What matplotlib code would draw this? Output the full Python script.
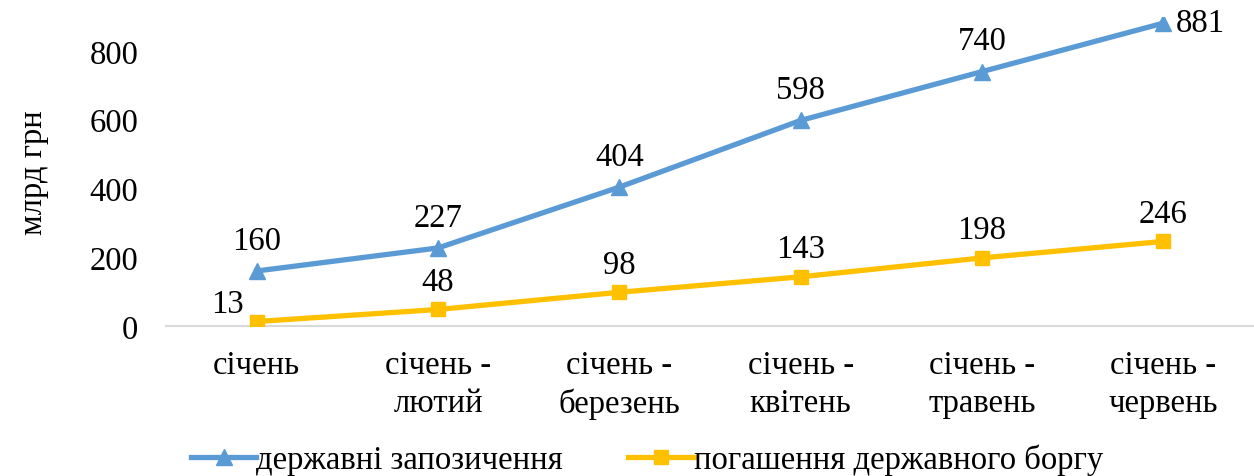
import matplotlib.pyplot as plt

plt.rcParams['font.family'] = ['Liberation Serif', 'DejaVu Serif']

categories = ["січень", "січень -\nлютий", "січень -\nберезень", "січень -\nквітень",
              "січень -\nтравень", "січень -\nчервень"]
borrowing = [160, 227, 404, 598, 740, 881]
repayment = [13, 48, 98, 143, 198, 246]
names = ["державні запозичення", "погашення державного боргу"]

blue = "#5B9BD5"
orange = "#FFC000"

fig = plt.figure(figsize=(12.54, 4.77), dpi=100)
ax = fig.add_axes([0.1324, 0.3145, 0.8676, 0.6486])

x = list(range(len(categories)))
ax.plot(x, borrowing, color=blue, lw=3.8, marker="^", ms=11, label=names[0], zorder=3)
ax.plot(x, repayment, color=orange, lw=3.8, marker="s", ms=10, label=names[1], zorder=3)

fs = 23.5
for i, v in enumerate(borrowing):
    if i == len(borrowing) - 1:
        ax.annotate(str(v), (i, v), xytext=(9, 0), textcoords="offset points",
                    ha="left", va="center", fontsize=fs)
    else:
        ax.annotate(str(v), (i, v), xytext=(0, 11), textcoords="offset points",
                    ha="center", va="bottom", fontsize=fs)
for i, v in enumerate(repayment):
    if i == 0:
        ax.annotate(str(v), (i, v), xytext=(-9, 2), textcoords="offset points",
                    ha="right", va="bottom", fontsize=fs)
    else:
        ax.annotate(str(v), (i, v), xytext=(0, 9), textcoords="offset points",
                    ha="center", va="bottom", fontsize=fs)

ax.set_xlim(-0.5, len(categories) - 0.5)
ax.set_ylim(0, 900)
ax.set_yticks([0, 200, 400, 600, 800])
ax.set_xticks(x)
ax.set_xticklabels(categories, fontsize=fs, linespacing=1.3)
ax.tick_params(axis="y", labelsize=fs, length=0, pad=20)
ax.tick_params(axis="x", length=0, pad=17)
for s in ["top", "right", "left"]:
    ax.spines[s].set_visible(False)
ax.spines["bottom"].set_color("#D9D9D9")
ax.spines["bottom"].set_linewidth(1.5)

ax.set_ylabel("млрд грн", fontsize=fs, labelpad=29)

fig.legend(loc="center", bbox_to_anchor=(0.516, 0.035), ncol=2, frameon=False,
           fontsize=fs, handlelength=2.0, handletextpad=0.0, columnspacing=2.0)

fig.savefig("out.png", dpi=100)
